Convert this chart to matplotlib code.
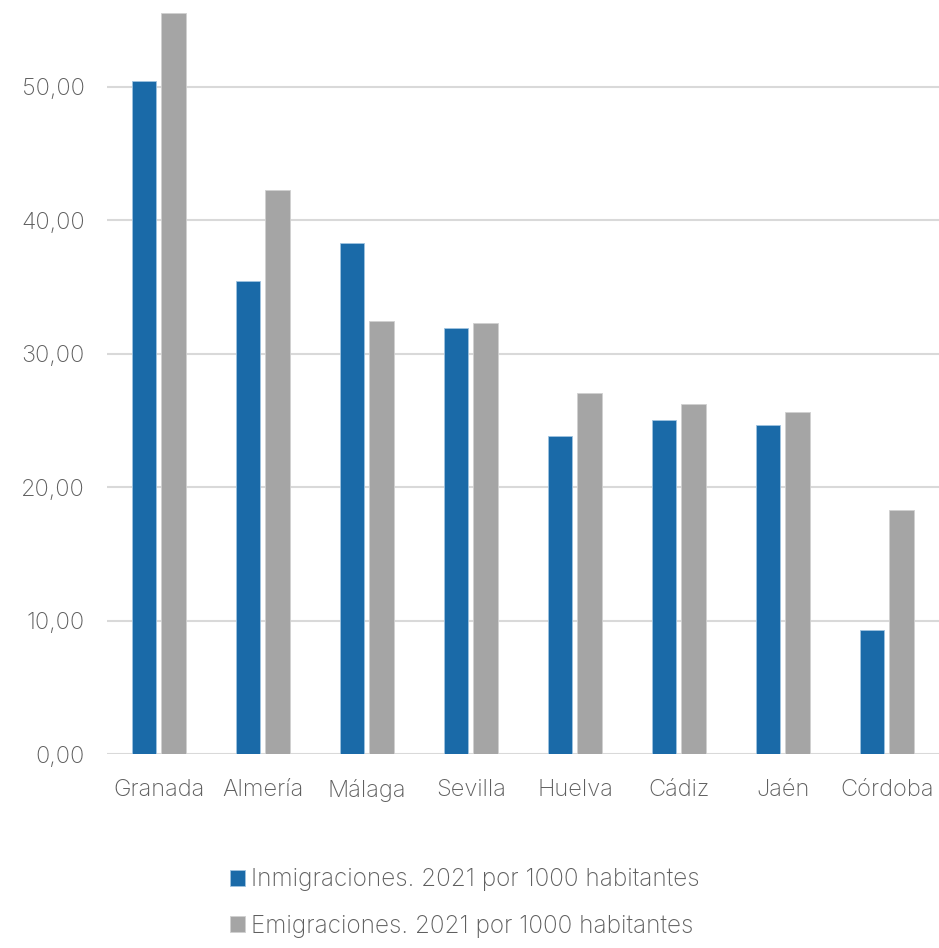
import matplotlib.pyplot as plt
import numpy as np

# -------------------------------
# Data
# -------------------------------
provincias = ["Granada", "Almería", "Málaga", "Sevilla", "Huelva", "Cádiz", "Jaén", "Córdoba"]
inmigraciones = [50.45, 35.46, 38.30, 31.93, 23.84, 25.04, 24.66, 9.30]
emigraciones = [55.50, 42.28, 32.46, 32.31, 27.06, 26.24, 25.64, 18.29]
yticks = [0, 10, 20, 30, 40, 50]
serie_labels = ["Inmigraciones. 2021 por 1000 habitantes",
                "Emigraciones. 2021 por 1000 habitantes"]

plt.rcParams['font.family'] = ['Inter', 'DejaVu Sans']
text_color = "#5f5f5f"

# -------------------------------
# Plot
# -------------------------------
fig = plt.figure(figsize=(9.39, 9.48), dpi=100)
ax = fig.add_axes([0.114, 0.2046, 0.886, 0.7954])

x = np.arange(len(provincias))
w = 0.235
b1 = ax.bar(x - 0.145, inmigraciones, w, color="#1a6aa8", edgecolor="#9fc3e0",
            linewidth=0.6, label=serie_labels[0], zorder=3)
b2 = ax.bar(x + 0.14, emigraciones, w, color="#a5a5a5", edgecolor="#d0d0d0",
            linewidth=0.6, label=serie_labels[1], zorder=3)

ax.set_xlim(-0.5, len(provincias) - 0.5)
ax.set_ylim(0, 56.5)
ax.set_yticks(yticks)
ax.set_yticklabels([f"{v:.2f}".replace(".", ",") for v in yticks])
ax.set_xticks(x)
ax.set_xticklabels(provincias)

ax.grid(axis="y", color="#d9d9d9", linewidth=1.5, zorder=0)
for s in ["top", "right", "left", "bottom"]:
    ax.spines[s].set_visible(False)
ax.tick_params(axis="both", length=0, labelsize=17, colors=text_color)
ax.tick_params(axis="y", pad=16)
ax.tick_params(axis="x", pad=18)
for t in ax.get_xticklabels() + ax.get_yticklabels():
    t.set_fontweight("light")

leg = fig.legend(handles=[b1, b2], loc="lower center", bbox_to_anchor=(0.495, -0.012),
                 ncol=1, frameon=False, fontsize=17.5, labelcolor=text_color,
                 handlelength=0.6, handleheight=0.6, handletextpad=0.25, labelspacing=0.95)
for t in leg.get_texts():
    t.set_fontweight("light")

plt.savefig("out.png", dpi=100)
